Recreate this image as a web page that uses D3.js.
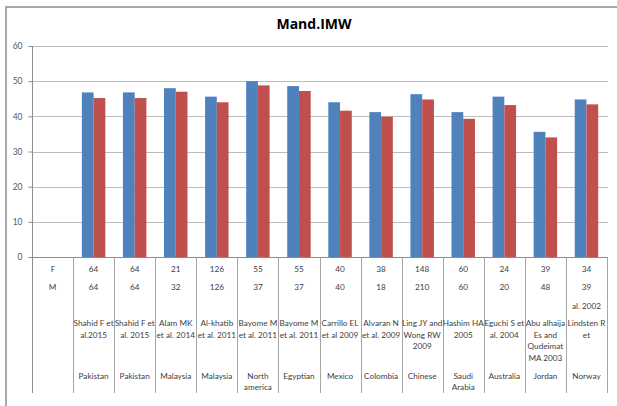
<!DOCTYPE html>
<html>
<head>
<meta charset="utf-8">
<script src="https://cdn.jsdelivr.net/npm/d3@7"></script>
<style>
  body { margin: 0; background: #fff; }
  svg { display: block; }
</style>
</head>
<body>
<svg id="chart" width="617" height="406"></svg>
<script>
// chart values
var title = "Mand.IMW";
var series1 = [46.8, 46.8, 48.0, 45.6, 50.0, 48.6, 44.0, 41.2, 46.3, 41.2, 45.6, 35.6, 44.8];
var series2 = [45.2, 45.2, 47.0, 44.0, 48.8, 47.2, 41.6, 39.9, 44.8, 39.3, 43.2, 34.0, 43.4];
var rowF = ["64", "64", "21", "126", "55", "55", "40", "38", "148", "60", "24", "39", "34"];
var rowM = ["64", "64", "32", "126", "37", "37", "40", "18", "210", "60", "20", "48", "39"];
var authors = [
  ["Shahid F et", "al.2015"],
  ["Shahid F et", "al. 2015"],
  ["Alam MK", "et al. 2014"],
  ["Al-khatib", "et al. 2011"],
  ["Bayome M", "et al. 2011"],
  ["Bayome M", "et al. 2011"],
  ["Carrillo EL", "et al 2009"],
  ["Alvaran N", "et al. 2009"],
  ["Ling JY and", "Wong RW", "2009"],
  ["Hashim HA", "2005"],
  ["Eguchi S et", "al. 2004"],
  ["Abu alhaija", "Es and", "Qudeimat", "MA 2003"],
  ["Lindsten R", "et"]
];
var authorOverflow = ["", "", "", "", "", "", "", "", "", "", "", "", "al. 2002"];
var countries = [
  ["Pakistan"], ["Pakistan"], ["Malaysia"], ["Malaysia"], ["North", "america"],
  ["Egyptian"], ["Mexico"], ["Colombia"], ["Chinese"], ["Saudi", "Arabia"],
  ["Australia"], ["Jordan"], ["Norway"]
];
var yTicks = [0, 10, 20, 30, 40, 50, 60];

var svg = d3.select("#chart");
var font = "Lato, 'Open Sans', sans-serif";
var blue = "#4f81bd", red = "#c0504d";

// outer frame (cropped on right and bottom)
svg.append("path")
  .attr("d", "M6,406 V7 H617")
  .attr("fill", "none")
  .attr("stroke", "#8c8c8c")
  .attr("stroke-width", 1.5);

svg.append("text")
  .attr("x", 314).attr("y", 29)
  .attr("text-anchor", "middle")
  .attr("font-family", "'Open Sans', sans-serif")
  .attr("font-weight", "bold")
  .attr("font-size", 14)
  .attr("fill", "#000")
  .text(title);

var plotLeft = 32, plotRight = 607, plotTop = 46, plotBottom = 257, tableBottom = 393;

// first category is the label column of the data table
var cats = d3.range(series1.length + 1);
var x = d3.scaleBand().domain(cats).range([plotLeft, plotRight]).padding(0);
var x1 = d3.scaleBand().domain([0, 1]).range([0, x.bandwidth()])
  .paddingInner(0).paddingOuter(0.75);
var y = d3.scaleLinear().domain([0, 60]).range([plotBottom, plotTop]);

// gridlines
svg.append("g").selectAll("line")
  .data(yTicks.filter(function(d) { return d > 0; }))
  .join("line")
  .attr("x1", plotLeft).attr("x2", plotRight + 1)
  .attr("y1", function(d) { return Math.round(y(d)) + 0.5; })
  .attr("y2", function(d) { return Math.round(y(d)) + 0.5; })
  .attr("stroke", "#bdbdbd");

// y axis
var yAxis = d3.axisLeft(y).tickValues(yTicks).tickSize(4).tickPadding(6);
var ga = svg.append("g").attr("transform", "translate(" + (plotLeft + 0.5) + ",0)").call(yAxis);
ga.select(".domain").remove();
ga.selectAll(".tick line").attr("stroke", "#8c8c8c");
ga.selectAll(".tick text")
  .attr("font-family", font).attr("font-size", 8.5).attr("fill", "#595959");

// bars
var groups = svg.append("g").selectAll("g")
  .data(series1.map(function(v, i) { return { i: i + 1, vals: [v, series2[i]] }; }))
  .join("g")
  .attr("transform", function(d) { return "translate(" + x(d.i) + ",0)"; });

groups.selectAll("rect")
  .data(function(d) { return d.vals; })
  .join("rect")
  .attr("x", function(d, k) { return x1(k); })
  .attr("width", x1.bandwidth())
  .attr("y", function(d) { return y(d); })
  .attr("height", function(d) { return y(0) - y(d); })
  .attr("fill", function(d, k) { return k === 0 ? blue : red; });

// axis line at zero and table lines
svg.append("line")
  .attr("x1", plotLeft - 3).attr("x2", plotRight + 1)
  .attr("y1", plotBottom + 0.5).attr("y2", plotBottom + 0.5)
  .attr("stroke", "#8c8c8c");

svg.append("line")
  .attr("x1", plotLeft + 0.5).attr("x2", plotLeft + 0.5)
  .attr("y1", plotTop).attr("y2", tableBottom)
  .attr("stroke", "#8c8c8c");

svg.append("g").selectAll("line")
  .data(cats.slice(1).concat([cats.length]))
  .join("line")
  .attr("x1", function(d) { return Math.round(plotLeft + d * x.step()) + 0.5; })
  .attr("x2", function(d) { return Math.round(plotLeft + d * x.step()) + 0.5; })
  .attr("y1", plotBottom).attr("y2", tableBottom)
  .attr("stroke", "#a6a6a6");

// data table text
var tbl = svg.append("g")
  .attr("font-family", font).attr("font-size", 8.2)
  .attr("fill", "#404040").attr("text-anchor", "middle");

function cx(i) { return x(i) + x.bandwidth() / 2; }

tbl.append("text").attr("x", cx(0) + 0.5).attr("y", 272).text("F");
tbl.append("text").attr("x", cx(0)).attr("y", 290).text("M");

rowF.forEach(function(t, i) {
  tbl.append("text").attr("x", cx(i + 1)).attr("y", 272).text(t);
});
rowM.forEach(function(t, i) {
  tbl.append("text").attr("x", cx(i + 1)).attr("y", 290).text(t);
});
authors.forEach(function(lines, i) {
  lines.forEach(function(t, j) {
    tbl.append("text").attr("x", cx(i + 1)).attr("y", 326 + j * 11.7).text(t);
  });
});
authorOverflow.forEach(function(t, i) {
  if (t) tbl.append("text").attr("x", cx(i + 1)).attr("y", 309).text(t);
});
countries.forEach(function(lines, i) {
  lines.forEach(function(t, j) {
    tbl.append("text").attr("x", cx(i + 1)).attr("y", 379 + j * 11).text(t);
  });
});
</script>
</body>
</html>
